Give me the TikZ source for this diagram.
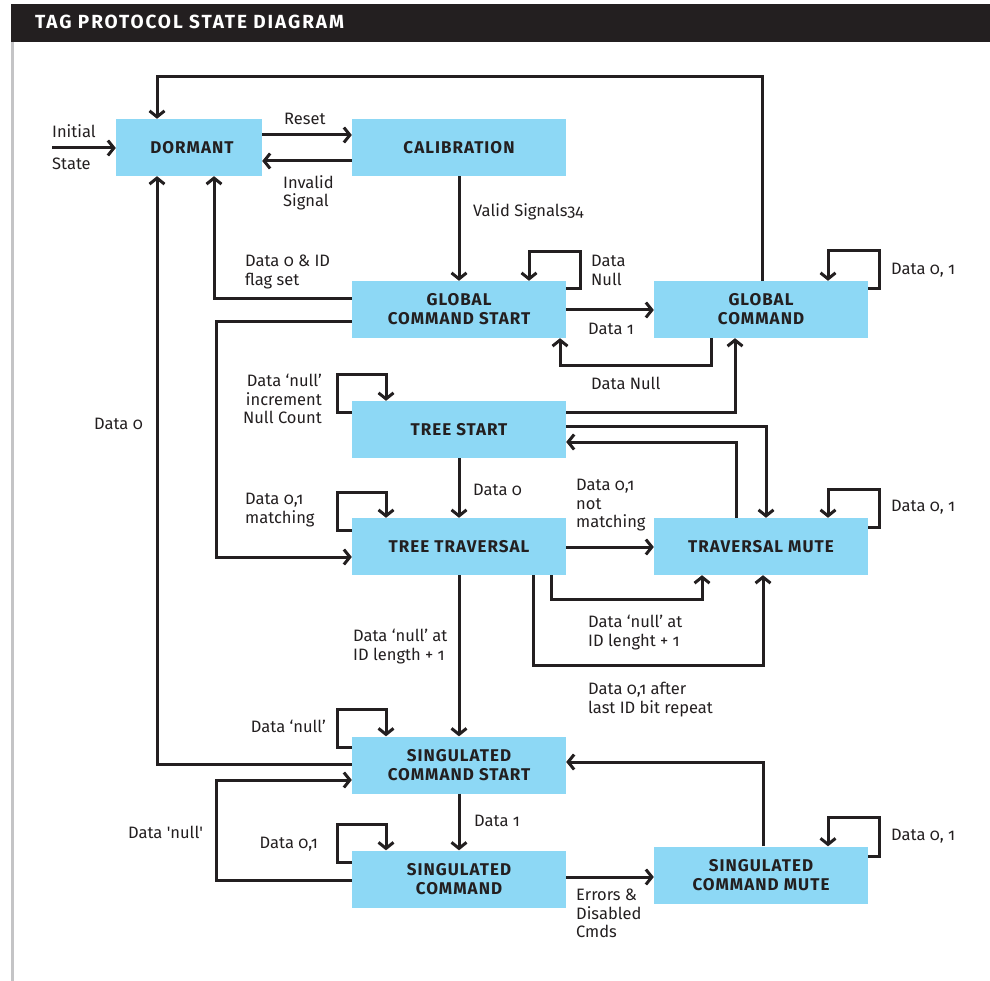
\documentclass[tikz,border=0pt]{standalone}
\usepackage{fontspec}
\setmainfont{Fira Sans}
\newfontfamily\lblfont[Numbers=OldStyle]{Fira Sans}
\newfontfamily\statefont[LetterSpace=6]{Fira Sans}
\newfontfamily\titlefont[LetterSpace=10]{Fira Sans}
\usetikzlibrary{arrows.meta,calc}

\definecolor{ink}{HTML}{231F20}
\definecolor{stateblue}{HTML}{8DD8F5}
\definecolor{edge}{HTML}{C4C4C6}

\begin{document}
\begin{tikzpicture}[x=1pt,y=-1pt,
  state/.style={fill=stateblue, minimum width=214pt, minimum height=57pt,
    inner sep=0pt, align=center, text=ink,
    font=\statefont\bfseries\fontsize{17pt}{19pt}\selectfont},
  wire/.style={draw=ink, line width=3pt,
    -{Straight Barb[length=6pt,width=15pt]}},
  lbl/.style={inner sep=0pt, text=ink,
    font=\lblfont\fontsize{16.5pt}{18.5pt}\selectfont},
  lblL/.style={lbl, align=left, anchor=north west},
  lblR/.style={lbl, align=right, anchor=north east}]

\useasboundingbox (0,0) rectangle (990,981);

% title bar and side rule
\fill[ink] (11,4) rectangle (990,42);
\node[anchor=base west, inner sep=0pt, text=white,
  font=\titlefont\bfseries\fontsize{19pt}{21pt}\selectfont] (title) at (35,29)
  {TAG PROTOCOL STATE DIAGRAM};
\draw[edge, line width=2.5pt] (12.5,42) -- (12.5,981);

% states
\node[state, minimum width=146pt] (dormant) at (189,147.5) {\hspace*{6pt}DORMANT};
\node[state] (calib) at (459,147.5) {CALIBRATION};
\node[state] (gcs)   at (459,309.5) {GLOBAL\\COMMAND START};
\node[state] (gc)    at (761,309.5) {GLOBAL\\COMMAND};
\node[state] (ts)    at (459,429.5) {TREE START};
\node[state] (tt)    at (459,546.5) {TREE TRAVERSAL};
\node[state] (tm)    at (761,546.5) {TRAVERSAL MUTE};
\node[state] (scs)   at (459,765)   {SINGULATED\\COMMAND START};
\node[state] (sc)    at (459,879)   {SINGULATED\\COMMAND};
\node[state] (scm)   at (761,875)   {SINGULATED\\COMMAND MUTE};

% entry
\coordinate (init) at (52,148);
\draw[wire] (init) -- (dormant.west |- init);

% dormant <-> calibration
\draw[wire] (dormant.east |- 0,135) -- (calib.west |- 0,135);
\draw[wire] (calib.west |- 0,161) -- (dormant.east |- 0,161);
\draw[wire] (calib.south) -- (gcs.north);

% back to dormant
\draw[wire] (gc.north -| 762,0) |- (157,77) -- (dormant.north -| 157,0);
\draw[wire] (gcs.west |- 0,299) -| (dormant.south -| 214,0);
\draw[wire] (scs.west |- 0,764) -| (dormant.south -| 157,0);

% global command
\draw[wire] (gcs.east |- 0,289) -| (580,252) -| (gcs.north -| 529,0);
\draw[wire] (gcs.east |- 0,310) -- (gc.west |- 0,310);
\draw[wire] (gc.south -| 711,0) |- (560,365) -- (gcs.south -| 560,0);
\draw[wire] (gc.east |- 0,289) -| (879,251) -| (gc.north -| 828,0);

% tree start
\draw[wire] (ts.east |- 0,412) -| (gc.south -| 735,0);
\draw[wire] (ts.east |- 0,426) -| (tm.north -| 766,0);
\draw[wire] (tm.north -| 736,0) |- (ts.east |- 0,442);
\draw[wire] (ts.west |- 0,412) -| (337,374) -| (ts.north -| 386,0);
\draw[wire] (ts.south) -- (tt.north);

% tree traversal
\draw[wire] (gcs.west |- 0,322) -| (216,557) -- (tt.west |- 0,557);
\draw[wire] (tt.west |- 0,530) -| (337,492) -| (tt.north -| 386,0);
\draw[wire] (tt.east |- 0,547) -- (tm.west |- 0,547);
\draw[wire] (tt.south -| 551,0) |- (702,599) -- (tm.south -| 702,0);
\draw[wire] (tt.south -| 533,0) |- (763,665) -- (tm.south -| 763,0);
\draw[wire] (tm.east |- 0,527) -| (879,489) -| (tm.north -| 828,0);
\draw[wire] (tt.south) -- (scs.north);

% singulated states
\draw[wire] (scs.west |- 0,747) -| (337,709) -| (scs.north -| 386,0);
\draw[wire] (sc.west |- 0,880) -| (216,780) -- (scs.west |- 0,780);
\draw[wire] (sc.west |- 0,862) -| (337,824) -| (sc.north -| 386,0);
\draw[wire] (scs.south) -- (sc.north);
\draw[wire] (sc.east |- 0,877) -- (scm.west |- 0,877);
\draw[wire] (scm.north -| 763,0) |- (scs.east |- 0,762);
\draw[wire] (scm.east |- 0,856) -| (879,817) -| (scm.north -| 828,0);

% transition labels
\node[lblL] (tInit) at (52,124) {Initial\\[13.5pt]State};
\node[lbl, anchor=base west] (tReset) at (284,124.5) {Reset};
\node[lblL] (tInvalid) at (283,175) {Invalid\\Signal};
\node[lbl, anchor=base west] (tValid) at (473,216.5) {Valid Signals34};
\node[lblL] (tIdFlag) at (245,255) {Data 0 \& ID\\flag set};
\node[lblL] (tGcsLoop) at (591,255) {Data\\Null};
\node[lbl, anchor=base west] (tData1a) at (588,334.5) {Data 1};
\node[lbl, anchor=base west] (tNull) at (591,389.5) {Data Null};
\node[lbl, anchor=base west] (tGcLoop) at (891,274.5) {Data 0, 1};
\node[lbl, anchor=base west] (tData0a) at (94,429.5) {Data 0};
\node[lblR] (tTsLoop) at (322,374) {Data ‘null’\\increment\\Null Count};
\node[lbl, anchor=base west] (tData0b) at (473,495.5) {Data 0};
\node[lblL] (tNotMatch) at (576,479) {Data 0,1\\not\\matching};
\node[lblL] (tMatch) at (245,493) {Data 0,1\\matching};
\node[lbl, anchor=base west] (tTmLoop) at (891,511.5) {Data 0, 1};
\node[lblL] (tNullLen) at (588,615) {Data ‘null’ at\\ID lenght + 1};
\node[lblL] (tToScs) at (353,629) {Data ‘null’ at\\ID length + 1};
\node[lblL] (tRepeat) at (588,682) {Data 0,1 after\\last ID bit repeat};
\node[lbl, anchor=base east] (tScsLoop) at (326,732.5) {Data ‘null’};
\node[lbl, anchor=base west] (tScBack) at (128,838.5) {Data \textquotesingle null\textquotesingle};
\node[lbl, anchor=base east] (tScLoop) at (318,848.5) {Data 0,1};
\node[lbl, anchor=base west] (tData1b) at (474,826.5) {Data 1};
\node[lblL] (tErrors) at (576,889) {Errors \&\\Disabled\\Cmds};
\node[lbl, anchor=base west] (tScmLoop) at (891,840.5) {Data 0, 1};
\end{tikzpicture}
\end{document}
